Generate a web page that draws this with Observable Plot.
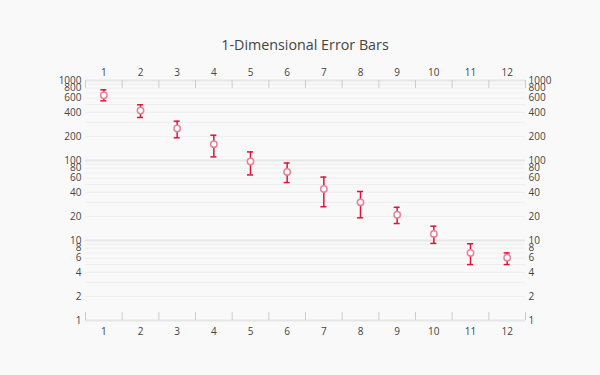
<!DOCTYPE html>
<html>
<head>
<meta charset="utf-8">
<script src="https://cdn.jsdelivr.net/npm/d3@7"></script>
<script src="https://cdn.jsdelivr.net/npm/@observablehq/plot@0.6"></script>
<style>
  html, body { margin: 0; padding: 0; background: #f9f9f9; }
  #wrap { width: 600px; height: 375px; background: #f9f9f9; font-family: "Open Sans", sans-serif; }
  #title { height: 60px; box-sizing: border-box; padding-top: 35px; padding-left: 10px; text-align: center; font-size: 14.3px; color: #444; line-height: 20px; }
</style>
</head>
<body>
<div id="wrap">
  <div id="title">1-Dimensional Error Bars</div>
  <div id="chart"></div>
</div>
<script>
const categories = [1, 2, 3, 4, 5, 6, 7, 8, 9, 10, 11, 12];
const values = [655, 422, 251, 160, 97, 72, 44, 30, 21, 12.1, 7.0, 6.1];
const upper  = [765, 497, 310, 207, 128, 93, 62, 41, 26, 15.1, 9.1, 7.0];
const lower  = [557, 345, 192, 111, 66, 53, 26.4, 19.2, 16.3, 9.2, 5.0, 5.0];
const yTickLabels = [1, 2, 4, 6, 8, 10, 20, 40, 60, 80, 100, 200, 400, 600, 800, 1000];
const majorGrid = [1, 10, 100, 1000];
const minorGrid = [2,3,4,5,6,7,8,9,20,30,40,50,60,70,80,90,200,300,400,500,600,700,800,900];

const data = categories.map((c, i) => ({x: c, y: values[i], hi: upper[i], lo: lower[i]}));
const bounds = categories.map(c => c - 0.5).concat([categories[categories.length - 1] + 0.5]);

const errColor = "#dc143c";
const gridMinor = "#eeeeee";
const gridMajor = "#e6e6e6";
const tickColor = "#cccccc";
const labelColor = "#444";
const fmt = d => String(d);

const chart = Plot.plot({
  width: 600,
  height: 315,
  marginLeft: 85,
  marginRight: 75,
  marginTop: 20,
  marginBottom: 55,
  style: {background: "#f9f9f9", fontFamily: "'Open Sans', sans-serif", fontSize: "10px", color: "#444"},
  x: {type: "linear", domain: [0.5, 12.5], axis: null},
  y: {type: "log", domain: [1, 1000], axis: null},
  marks: [
    Plot.ruleY(minorGrid, {stroke: gridMinor, strokeWidth: 1}),
    Plot.ruleY(majorGrid, {stroke: gridMajor, strokeWidth: 2}),
    Plot.ruleX(bounds, {stroke: tickColor, strokeWidth: 1, insetBottom: 232}),
    Plot.ruleX(bounds, {stroke: tickColor, strokeWidth: 1, insetTop: 232}),
    Plot.axisX(categories, {anchor: "top", tickFormat: fmt, tickSize: 0, tickPadding: 5, label: null, fill: labelColor}),
    Plot.axisX(categories, {anchor: "bottom", tickFormat: fmt, tickSize: 0, tickPadding: 7, label: null, fill: labelColor}),
    Plot.text(yTickLabels, {y: d => d, text: fmt, frameAnchor: "left", textAnchor: "end", dx: -4, fill: labelColor}),
    Plot.text(yTickLabels, {y: d => d, text: fmt, frameAnchor: "right", textAnchor: "start", dx: 3, fill: labelColor}),
    Plot.ruleX(data, {x: "x", y1: "lo", y2: "hi", stroke: errColor, strokeWidth: 1.5}),
    Plot.ruleY(data, {y: "hi", x1: "x", x2: "x", insetLeft: -3, insetRight: -3, stroke: errColor, strokeWidth: 1.5}),
    Plot.ruleY(data, {y: "lo", x1: "x", x2: "x", insetLeft: -3, insetRight: -3, stroke: errColor, strokeWidth: 1.5}),
    Plot.dot(data, {x: "x", y: "y", r: 3.2, fill: "white", stroke: "#e9819a", strokeWidth: 1.5})
  ]
});
document.getElementById("chart").appendChild(chart);
</script>
</body>
</html>
